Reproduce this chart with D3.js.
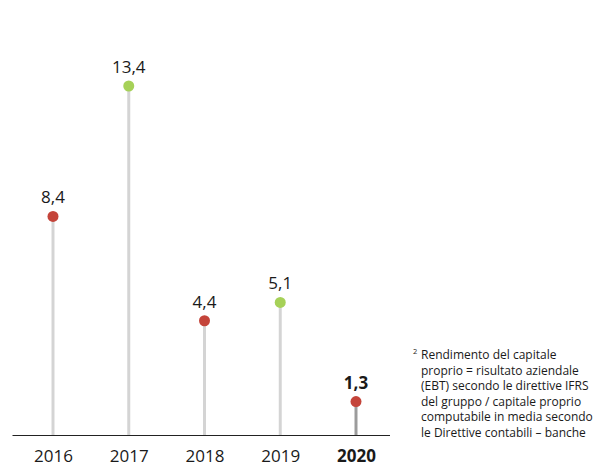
<!DOCTYPE html>
<html>
<head>
<meta charset="utf-8">
<script src="https://cdn.jsdelivr.net/npm/d3@7"></script>
<style>
  html, body { margin: 0; padding: 0; background: #fff; }
  svg { display: block; }
  text { font-family: "Open Sans", "Noto Sans", sans-serif; fill: #1a1a1a; }
</style>
</head>
<body>
<svg id="chart" width="603" height="466"></svg>
<script>
// Return on equity, in percent
const years = ["2016", "2017", "2018", "2019", "2020"];
const values = [8.4, 13.4, 4.4, 5.1, 1.3];
const labels = ["8,4", "13,4", "4,4", "5,1", "1,3"];
const dotKinds = ["red", "green", "red", "green", "red"];
const highlightYear = "2020";
const footnoteMark = "2";
const footnoteLines = [
  "Rendimento del capitale",
  "proprio = risultato aziendale",
  "(EBT) secondo le direttive IFRS",
  "del gruppo / capitale proprio",
  "computabile in media secondo",
  "le Direttive contabili \u2013 banche"
];

const colors = { red: "#c4443a", green: "#a6d158" };

const svg = d3.select("#chart");
const baseY = 435.5;

const x = d3.scalePoint()
  .domain(years)
  .range([53, 356]);

const y = d3.scaleLinear()
  .domain([0, 13.4])
  .range([baseY, 86]);

// stems
svg.selectAll("line.stem")
  .data(years)
  .join("line")
  .attr("class", "stem")
  .attr("x1", d => x(d))
  .attr("x2", d => x(d))
  .attr("y1", baseY)
  .attr("y2", (d, i) => y(values[i]))
  .attr("stroke", d => d === highlightYear ? "#9c9c9c" : "#d4d4d4")
  .attr("stroke-width", 3);

// baseline
svg.append("line")
  .attr("x1", 12.5).attr("x2", 390)
  .attr("y1", baseY).attr("y2", baseY)
  .attr("stroke", "#222").attr("stroke-width", 1.2);

// dots
svg.selectAll("circle.dot")
  .data(years)
  .join("circle")
  .attr("class", "dot")
  .attr("cx", d => x(d))
  .attr("cy", (d, i) => y(values[i]))
  .attr("r", 5.5)
  .attr("fill", (d, i) => colors[dotKinds[i]]);

// value labels
svg.selectAll("text.val")
  .data(years)
  .join("text")
  .attr("class", "val")
  .attr("x", d => x(d))
  .attr("y", (d, i) => y(values[i]) - 13)
  .attr("text-anchor", "middle")
  .attr("font-size", 17)
  .attr("font-weight", d => d === highlightYear ? 700 : 400)
  .text((d, i) => labels[i]);

// year axis
const xAxis = d3.axisBottom(x).tickSize(0).tickPadding(0);
const gx = svg.append("g").attr("transform", `translate(0,${baseY})`).call(xAxis);
gx.select(".domain").remove();
gx.selectAll("text")
  .attr("y", 26)
  .attr("dy", 0)
  .attr("font-size", 17)
  .attr("font-family", "\"Open Sans\", \"Noto Sans\", sans-serif")
  .attr("fill", "#1a1a1a")
  .attr("font-weight", d => d === highlightYear ? 700 : 400);

// footnote
const fn = svg.append("g").attr("transform", "translate(421,359)");
fn.append("text")
  .attr("x", -8).attr("y", -5)
  .attr("font-size", 7.5)
  .text(footnoteMark);
fn.selectAll("text.fl")
  .data(footnoteLines)
  .join("text")
  .attr("class", "fl")
  .attr("x", 0)
  .attr("y", (d, i) => i * 15.6)
  .attr("font-size", 12)
  .text(d => d);
</script>
</body>
</html>
